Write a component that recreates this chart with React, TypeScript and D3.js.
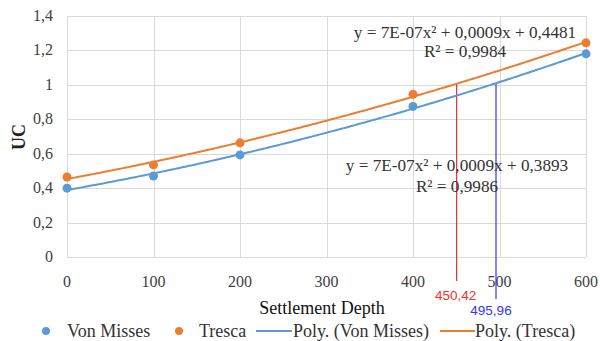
import React from 'react';
import * as d3 from 'd3';

// settlement depth (x) and unity check (y)
const depths = [0, 100, 200, 400, 600];
const vonMisses = [0.40, 0.47, 0.593, 0.875, 1.18];
const tresca = [0.465, 0.535, 0.663, 0.945, 1.244];

const yTicks = [0, 0.2, 0.4, 0.6, 0.8, 1, 1.2, 1.4];
const xTicks = [0, 100, 200, 300, 400, 500, 600];

const markers = [
  { x: 450.42, label: '450,42', color: '#ff2a2a', series: 'tresca' },
  { x: 495.96, label: '495,96', color: '#3333ff', series: 'vm' },
];

const eqTresca = ['y = 7E-07x² + 0,0009x + 0,4481', 'R² = 0,9984'];
const eqVm = ['y = 7E-07x² + 0,0009x + 0,3893', 'R² = 0,9986'];

const BLUE = '#5b9bd5';
const ORANGE = '#ed7d31';

// least squares quadratic fit, same as excel "Poly." trendline
function polyFit(xs: number[], ys: number[]) {
  const s = (p: number, q: number) => d3.sum(xs, (x, i) => Math.pow(x, p) * Math.pow(ys[i], q));
  const A = [
    [s(4, 0), s(3, 0), s(2, 0), s(2, 1)],
    [s(3, 0), s(2, 0), s(1, 0), s(1, 1)],
    [s(2, 0), s(1, 0), xs.length, s(0, 1)],
  ];
  for (let i = 0; i < 3; i++) {
    for (let j = i + 1; j < 3; j++) {
      const f = A[j][i] / A[i][i];
      for (let k = i; k < 4; k++) A[j][k] -= f * A[i][k];
    }
  }
  const c = [0, 0, 0];
  for (let i = 2; i >= 0; i--) {
    let v = A[i][3];
    for (let k = i + 1; k < 3; k++) v -= A[i][k] * c[k];
    c[i] = v / A[i][i];
  }
  return (x: number) => c[0] * x * x + c[1] * x + c[2];
}

const serif = { fontFamily: "'Liberation Serif', 'DejaVu Serif', serif" };
const sans = { fontFamily: "'Liberation Sans', Arial, sans-serif" };

export default function App() {
  const width = 600;
  const height = 341;
  const x = d3.scaleLinear().domain([0, 600]).range([67, 586]);
  const y = d3.scaleLinear().domain([0, 1.4]).range([257, 16]);

  const fitVm = polyFit(depths, vonMisses);
  const fitTr = polyFit(depths, tresca);
  const samples = d3.range(0, 601, 5);
  const line = (f: (v: number) => number) =>
    d3.line<number>().x(d => x(d)).y(d => y(f(d))).curve(d3.curveMonotoneX)(samples) || '';

  return (
    <svg width={width} height={height} style={{ position: 'absolute', left: 0, top: 0, background: '#fff' }}>
      <g stroke="#d9d9d9" strokeWidth={1}>
        {yTicks.map(t => (
          <line key={'gy' + t} x1={x(0)} x2={x(600)} y1={Math.round(y(t)) + 0.5} y2={Math.round(y(t)) + 0.5} />
        ))}
        {xTicks.map(t => (
          <line key={'gx' + t} x1={Math.round(x(t)) + 0.5} x2={Math.round(x(t)) + 0.5} y1={y(0)} y2={y(1.4)} />
        ))}
      </g>
      <g style={serif} fontSize={16} fill="#404040">
        {yTicks.map(t => (
          <text key={'ty' + t} x={53} y={y(t) + 5} textAnchor="end">{String(t).replace('.', ',')}</text>
        ))}
        {xTicks.map(t => (
          <text key={'tx' + t} x={x(t)} y={287} textAnchor="middle">{t}</text>
        ))}
      </g>
      <text transform="translate(25,137) rotate(-90)" textAnchor="middle" style={serif} fontWeight="bold" fontSize={18} fill="#222">UC</text>
      <text x={322} y={314} textAnchor="middle" style={serif} fontSize={18} fill="#111">Settlement Depth</text>

      {markers.map(m => {
        const f = m.series === 'tresca' ? fitTr : fitVm;
        return (
          <g key={m.label}>
            <line x1={x(m.x)} x2={x(m.x)} y1={y(f(m.x))} y2={m.series === 'tresca' ? 281 : 299} stroke={m.color} strokeWidth={1.2} />
            <text x={m.series === 'tresca' ? x(m.x) - 1 : x(m.x) - 5} y={m.series === 'tresca' ? 300 : 315} textAnchor="middle" style={sans} fontSize={13.5} fill={m.color}>{m.label}</text>
          </g>
        );
      })}

      <path d={line(fitVm)} fill="none" stroke={BLUE} strokeWidth={2} />
      <path d={line(fitTr)} fill="none" stroke={ORANGE} strokeWidth={2} />
      {depths.map((d, i) => (
        <circle key={'v' + d} cx={x(d)} cy={y(vonMisses[i])} r={4.5} fill={BLUE} />
      ))}
      {depths.map((d, i) => (
        <circle key={'t' + d} cx={x(d)} cy={y(tresca[i])} r={4.5} fill={ORANGE} />
      ))}

      <g style={serif} fontSize={17.2} fill="#333" textAnchor="middle">
        <text x={465} y={38}>{eqTresca[0]}</text>
        <text x={465} y={57}>{eqTresca[1]}</text>
        <text x={457} y={171}>{eqVm[0]}</text>
        <text x={457} y={192}>{eqVm[1]}</text>
      </g>

      <g style={serif} fontSize={18} fill="#333">
        <circle cx={46} cy={331} r={4} fill={BLUE} />
        <text x={67} y={337}>Von Misses</text>
        <circle cx={179} cy={331} r={4} fill={ORANGE} />
        <text x={199} y={337}>Tresca</text>
        <line x1={256} x2={292} y1={331} y2={331} stroke={BLUE} strokeWidth={2} />
        <text x={293} y={337}>Poly. (Von Misses)</text>
        <line x1={440} x2={475} y1={331} y2={331} stroke={ORANGE} strokeWidth={2} />
        <text x={475} y={337}>Poly. (Tresca)</text>
      </g>
    </svg>
  );
}
